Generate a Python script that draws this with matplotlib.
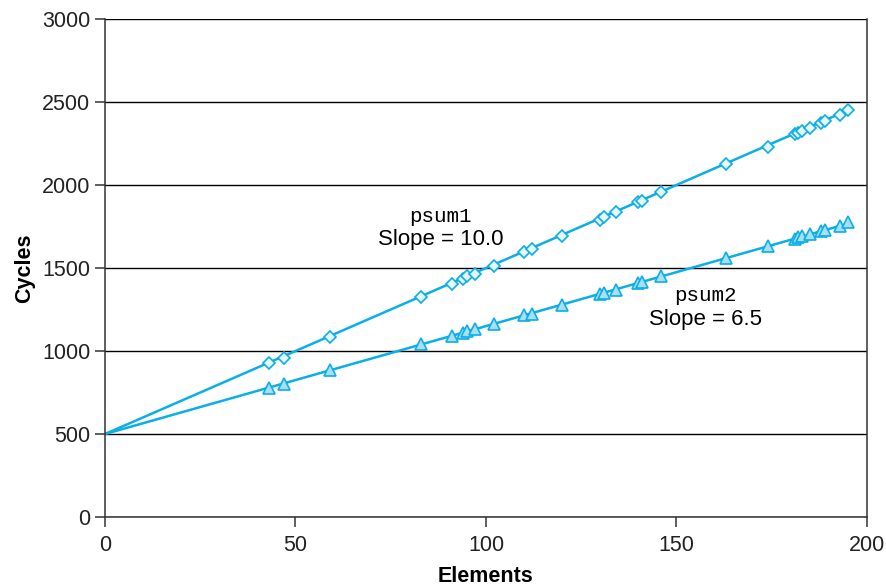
import numpy as np
import matplotlib.pyplot as plt

# element counts measured (same for both versions)
elements = [43, 47, 59, 83, 91, 94, 95, 97, 102, 110, 112, 120, 130, 131,
            134, 140, 141, 146, 163, 174, 181, 182, 183, 185, 188, 189, 193, 195]

psum1_cycles = [925, 960, 1085, 1325, 1405, 1435, 1450, 1465, 1510, 1595, 1615,
                1695, 1790, 1805, 1835, 1895, 1905, 1955, 2125, 2230, 2305, 2315,
                2325, 2345, 2375, 2385, 2420, 2450]
psum2_cycles = [780, 800, 885, 1040, 1090, 1110, 1120, 1130, 1165, 1215, 1225,
                1280, 1345, 1350, 1370, 1410, 1415, 1450, 1560, 1635, 1675, 1685,
                1690, 1705, 1720, 1730, 1755, 1775]

intercept = 500
slopes = [10.0, 6.5]
names = ['psum1', 'psum2']

col = '#0aafe8'
plt.rcParams['font.family'] = ['Liberation Sans', 'DejaVu Sans']

fig = plt.figure(figsize=(8.86, 5.88), dpi=100)
ax = fig.add_axes([0.1185, 0.1207, 0.86, 0.847])

x_fit = np.array([0, max(elements)])
for s in slopes:
    ax.plot(x_fit, intercept + s * x_fit, color=col, lw=1.8, zorder=2)

ax.plot(elements, psum1_cycles, ls='none', marker='D', ms=6.5, mfc='#e6f6fd',
        mec=col, mew=1.2, zorder=3)
ax.plot(elements, psum2_cycles, ls='none', marker='^', ms=8.5, mfc='#a9def5',
        mec=col, mew=1.2, zorder=3)

# labels
ax.text(88, 1813, names[0], family='Liberation Mono', fontsize=15, ha='center', va='center')
ax.text(88, 1669, 'Slope = %.1f' % slopes[0], fontsize=16, ha='center', va='center')
ax.text(157.5, 1337, names[1], family='Liberation Mono', fontsize=15, ha='center', va='center')
ax.text(157.5, 1187, 'Slope = %.1f' % slopes[1], fontsize=16, ha='center', va='center')

ax.set_xlim(0, 200)
ax.set_ylim(0, 3000)
ax.set_xticks(range(0, 201, 50))
ax.set_yticks(range(0, 3001, 500))
ax.yaxis.grid(True, color='black', lw=1.0)
ax.set_axisbelow(True)
for sp in ax.spines.values():
    sp.set_color('#333333')
    sp.set_linewidth(1.1)
ax.spines['top'].set_visible(False)
ax.tick_params(axis='both', labelsize=15.5, length=7, width=1.1, color='#333333', labelcolor='#222222')
ax.tick_params(axis='x', pad=6)

ax.set_xlabel('Elements', fontsize=15.5, fontweight='bold', labelpad=7)
ax.set_ylabel('Cycles', fontsize=15.5, fontweight='bold', labelpad=5)

fig.savefig('out.png', dpi=100)
